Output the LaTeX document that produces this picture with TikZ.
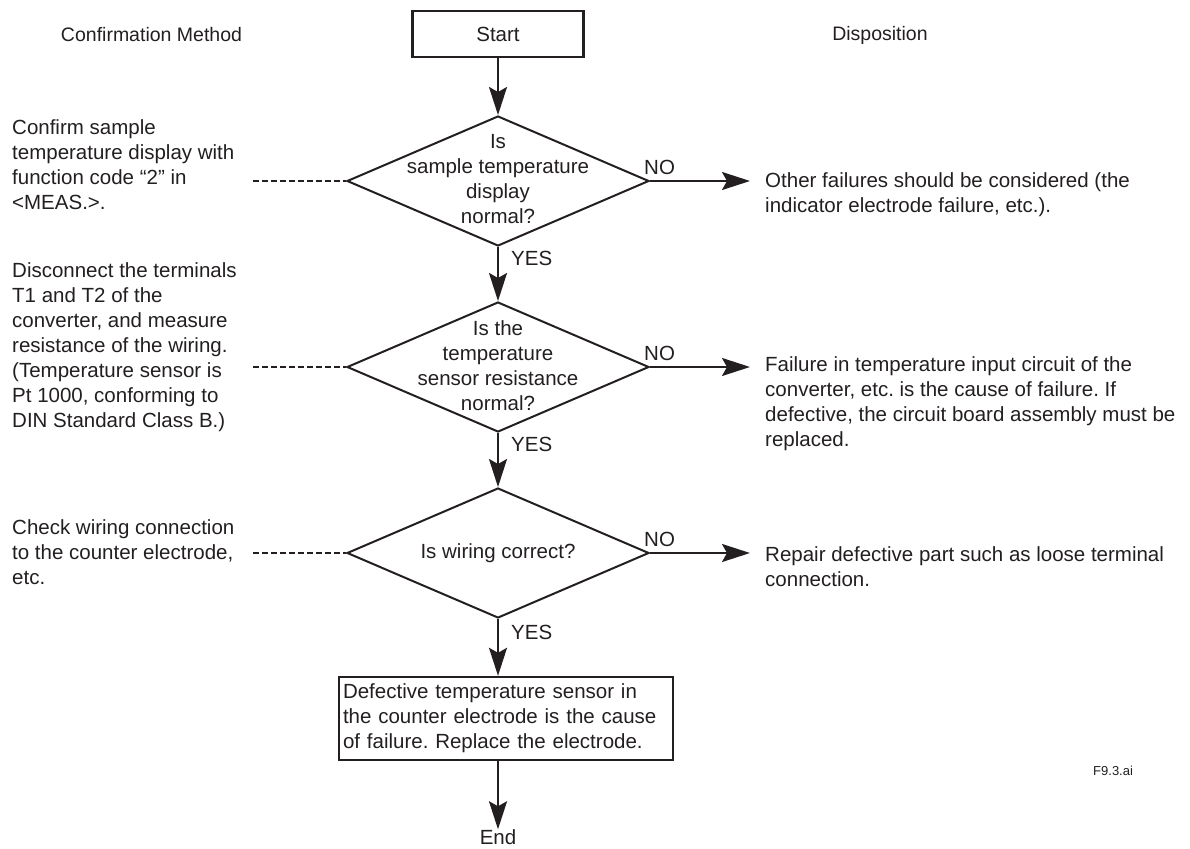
\documentclass[tikz,border=0pt]{standalone}
\usepackage{fontspec}
\setmainfont{Liberation Sans}
\usetikzlibrary{shapes.geometric,arrows.meta}
\definecolor{ink}{HTML}{231F20}
\frenchspacing
\begin{document}
\begin{tikzpicture}[x=1pt,y=-1pt,color=ink,
  every node/.style={font=\fontsize{20.5}{25}\selectfont,text=ink},
  arr/.style={line width=2pt,-{Stealth[length=28pt,width=18pt,inset=5pt]}},
  dsh/.style={line width=1.6pt,dash pattern=on 5.5pt off 3.5pt},
  dec/.style={draw,line width=2pt,diamond,minimum width=302pt,minimum height=130pt,inner sep=0pt},
  boxed/.style={draw,line width=2.4pt,inner sep=0pt},
  txt/.style={align=left,anchor=west,inner sep=0pt},
  ctxt/.style={align=center,inner sep=0pt},
  hdr/.style={align=center,inner sep=0pt,font=\fontsize{19.5}{24}\selectfont},
  lbl/.style={anchor=west,inner sep=0pt}]
\useasboundingbox (0,0) rectangle (1190,848);
% headers
\node[hdr] (h1) at (151.5,35) {Confirmation Method};
\node[hdr] (h2) at (880,35) {Disposition};
% start
\node[boxed,minimum width=171pt,minimum height=46pt] (start) at (498,34) {Start};
% decisions
\node[dec] (d1) at (498,181) {};
\node[ctxt] (t1) at (498,179.5) {Is\\sample temperature\\display\\normal?};
\node[dec] (d2) at (498,367) {};
\node[ctxt] (t2) at (498,365.5) {Is the\\temperature\\sensor resistance\\normal?};
\node[dec] (d3) at (498,553) {};
\node[ctxt] (t3) at (498,553) {Is wiring correct?};
% result box
\node[boxed,minimum width=334pt,minimum height=83pt,text width=326pt,inner sep=4pt,align=left] (res) at (506,718.5) {Defective temperature sensor in\\the counter electrode is the cause\\of failure. Replace the electrode.};
\node[ctxt] (end) at (498,837) {End};
% left texts
\node[txt] (l1) at (12,165) {Confirm sample\\temperature display with\\function code “2” in\\<MEAS.>.};
\node[txt] (l2) at (12,347.5) {Disconnect the terminals\\T1 and T2 of the\\converter, and measure\\resistance of the wiring.\\(Temperature sensor is\\Pt 1000, conforming to\\DIN Standard Class B.)};
\node[txt] (l3) at (12,552.5) {Check wiring connection\\to the counter electrode,\\etc.};
% right texts
\node[txt] (r1) at (765,194.5) {Other failures should be considered (the\\indicator electrode failure, etc.).};
\node[txt] (r2) at (765,404) {Failure in temperature input circuit of the\\converter, etc. is the cause of failure. If\\defective, the circuit board assembly must be\\replaced.};
\node[txt] (r3) at (765,567) {Repair defective part such as loose terminal\\connection.};
% file tag
\node[lbl,font=\fontsize{13}{15}\selectfont] (tag) at (1093,771) {F9.3.ai};
% coordinates
\coordinate (n1) at (750,181);
\coordinate (n2) at (750,367);
\coordinate (n3) at (750,553);
\coordinate (m1) at (253,181);
\coordinate (m2) at (253,367);
\coordinate (m3) at (253,553);
% connectors
\draw[arr] (start.south) -- (d1.north);
\draw[arr] (d1.south) -- (d2.north);
\draw[arr] (d2.south) -- (d3.north);
\draw[arr] (d3.south) -- (d3.south |- res.north);
\draw[arr] (end.north |- res.south) -- (end.north);
\draw[arr] (d1.east) -- (n1);
\draw[arr] (d2.east) -- (n2);
\draw[arr] (d3.east) -- (n3);
\draw[dsh] (m1) -- (d1.west);
\draw[dsh] (m2) -- (d2.west);
\draw[dsh] (m3) -- (d3.west);
% labels
\node[lbl] (no1) at (644,167) {NO};
\node[lbl] (no2) at (644,353) {NO};
\node[lbl] (no3) at (644,539) {NO};
\node[lbl] (y1) at (511,258) {YES};
\node[lbl] (y2) at (511,444) {YES};
\node[lbl] (y3) at (511,632) {YES};
\end{tikzpicture}
\end{document}
